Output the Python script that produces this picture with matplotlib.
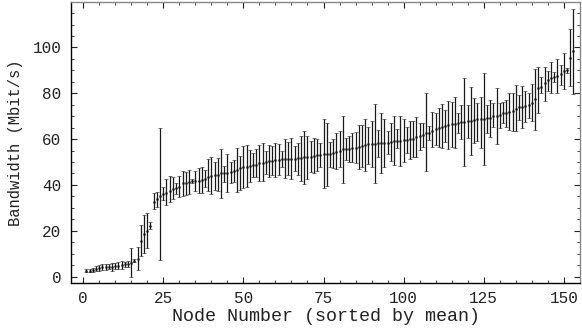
import matplotlib
matplotlib.use("Agg")
import matplotlib.pyplot as plt
import numpy as np
from matplotlib.ticker import MultipleLocator

# Mean bandwidth per node (Mbit/s), sorted by mean
means = [
    2.5, 2.6, 2.8, 3.4, 3.7, 4.0, 4.1, 4.2, 4.3, 4.6,
    4.8, 5.1, 5.3, 5.5, 5.8, 6.9, 7.8, 15.5, 18.5, 20.0,
    22.2, 32.5, 34.0, 35.0, 36.0, 36.6, 37.5, 38.0, 38.5, 39.0,
    40.7, 41.0, 41.3, 41.6, 41.7, 41.8, 42.1, 42.6, 43.6, 44.0,
    44.2, 44.3, 45.0, 45.1, 45.3, 45.6, 46.0, 46.6, 47.2, 47.7,
    48.0, 48.3, 48.6, 48.8, 49.4, 49.7, 50.0, 50.3, 50.6, 50.9,
    50.95, 51.2, 51.3, 51.35, 51.4, 51.45, 51.6, 51.7, 52.0, 52.2,
    52.3, 52.6, 53.0, 53.2, 53.4, 53.45, 53.5, 53.8, 54.4, 54.9,
    55.5, 55.6, 55.8, 56.1, 56.2, 56.4, 57.0, 57.3, 57.7, 57.9,
    57.95, 58.1, 58.2, 58.25, 58.4, 58.9, 59.2, 59.3, 59.35, 59.6,
    59.65, 59.9, 60.2, 60.8, 61.2, 61.8, 62.5, 62.6, 63.7, 64.3,
    64.7, 65.2, 65.7, 66.2, 66.4, 66.7, 67.2, 67.5, 67.6, 67.9,
    68.0, 68.3, 68.6, 68.8, 68.9, 69.1, 69.4, 70.1, 70.2, 70.5,
    71.3, 71.5, 72.0, 72.4, 73.0, 73.9, 74.2, 74.5, 74.9, 75.9,
    77.4, 82.2, 82.6, 84.4, 85.8, 86.8, 87.2, 87.6, 88.4, 89.9,
    90.2, 95.3, 98.6,
]

lows = [
    1.8, 1.9, 2.1, 2.3, 2.5, 2.7, 2.9, 3.2, 2.4, 3.2,
    3.2, 3.4, 4.1, 4.1, 0.0, 6.2, 2.8, 9.0, 10.1, 12.3,
    20.6, 29.3, 30.2, 7.2, 33.4, 31.1, 32.7, 33.7, 36.0, 34.8,
    35.2, 35.6, 36.0, 40.7, 37.5, 36.6, 36.6, 39.0, 37.5, 36.0,
    37.8, 37.5, 34.1, 41.4, 37.0, 41.0, 41.4, 37.0, 37.8, 38.5,
    39.0, 41.4, 43.3, 43.3, 41.8, 41.8, 44.8, 43.6, 44.3, 43.6,
    44.3, 47.7, 42.9, 44.3, 42.4, 46.2, 44.3, 41.8, 40.6, 42.7,
    45.8, 45.1, 46.2, 48.0, 38.5, 39.5, 48.0, 47.2, 46.8, 47.7,
    41.0, 50.9, 50.1, 50.1, 49.7, 46.8, 47.7, 46.2, 49.1, 47.7,
    41.0, 52.1, 45.1, 47.7, 53.5, 50.6, 48.7, 56.0, 48.3, 50.1,
    53.8, 51.2, 52.0, 52.3, 55.2, 56.4, 46.2, 59.6, 56.4, 57.4,
    56.7, 56.0, 58.9, 55.7, 56.4, 56.0, 62.5, 59.9, 48.3, 60.3,
    53.0, 58.2, 59.3, 56.0, 48.7, 62.8, 61.0, 65.2, 57.9, 64.7,
    67.2, 65.4, 64.0, 63.7, 63.7, 68.5, 64.7, 67.6, 69.1, 68.0,
    64.0, 71.5, 80.3, 76.8, 81.1, 80.0, 85.1, 80.0, 83.6, 81.7,
    89.0, 83.2, 79.7,
]

highs = [
    3.3, 3.3, 3.6, 4.6, 5.0, 5.3, 5.3, 5.3, 6.0, 6.0,
    6.5, 6.8, 6.4, 6.8, 12.3, 7.6, 13.0, 22.5, 26.9, 27.9,
    23.9, 36.3, 37.0, 65.0, 39.0, 42.4, 43.9, 43.3, 41.0, 43.9,
    46.2, 45.8, 46.5, 42.4, 46.2, 47.2, 47.7, 46.5, 51.2, 52.0,
    50.1, 51.6, 55.5, 48.3, 53.5, 50.1, 50.9, 56.0, 52.6, 57.0,
    57.4, 55.2, 53.8, 55.5, 57.4, 58.2, 54.9, 57.3, 57.0, 58.4,
    57.9, 54.9, 59.9, 58.9, 60.3, 57.1, 58.2, 61.4, 63.7, 61.4,
    59.3, 60.3, 59.9, 58.2, 68.6, 67.2, 58.9, 59.9, 62.8, 63.5,
    70.1, 60.3, 61.4, 62.8, 63.2, 66.2, 66.2, 68.6, 65.2, 68.0,
    75.1, 64.0, 71.3, 68.6, 63.7, 66.9, 70.1, 64.3, 70.1, 68.6,
    65.2, 68.0, 68.0, 69.5, 66.9, 66.9, 80.0, 65.7, 72.0, 71.5,
    73.4, 75.2, 72.9, 76.5, 76.3, 78.2, 71.5, 74.9, 86.5, 74.9,
    82.6, 77.8, 75.9, 78.2, 89.0, 74.9, 77.0, 75.6, 82.2, 75.6,
    76.3, 77.0, 80.0, 80.3, 83.8, 79.3, 83.2, 81.1, 80.3, 84.0,
    90.5, 91.3, 87.0, 91.6, 89.9, 93.8, 89.4, 94.8, 92.4, 97.7,
    91.2, 107.9, 117.0,
]

xticks = [0, 25, 50, 75, 100, 125, 150]
yticks = [0, 20, 40, 60, 80, 100]

nodes = np.arange(1, len(means) + 1)
m = np.array(means)
lo = np.array(lows)
hi = np.array(highs)
yerr = np.vstack([m - lo, hi - m])

plt.rcParams['font.family'] = ['Liberation Mono', 'DejaVu Sans Mono']

fig = plt.figure(figsize=(5.82, 3.29), dpi=100)
ax = fig.add_axes([0.122, 0.140, 0.8754, 0.855])

ax.errorbar(nodes, m, yerr=yerr, fmt='s', color='#111111', ecolor='#1a1a1a',
            markersize=1.1, markeredgewidth=0.4, elinewidth=0.9,
            capsize=1.6, capthick=0.9)

ax.set_xlim(-3.8, 155.2)
ax.set_ylim(-2.8, 120)
ax.set_xticks(xticks)
ax.set_yticks(yticks)
ax.xaxis.set_minor_locator(MultipleLocator(5))
ax.yaxis.set_minor_locator(MultipleLocator(5))
ax.tick_params(which='both', direction='in', top=True, right=True,
               labelsize=11.5, colors='#222222')
ax.tick_params(which='major', length=4, width=0.8)
ax.tick_params(which='minor', length=2, width=0.6)
ax.tick_params(axis='x', pad=6)
ax.tick_params(axis='y', pad=7)

for side in ['left', 'bottom']:
    ax.spines[side].set_color('black')
    ax.spines[side].set_linewidth(1.0)
for side in ['top', 'right']:
    ax.spines[side].set_color('#888888')
    ax.spines[side].set_linewidth(1.0)

ax.set_xlabel('Node Number (sorted by mean)', fontsize=13.2, color='#222222', labelpad=1)
ax.set_ylabel('Bandwidth (Mbit/s)', fontsize=11.2, color='#222222', labelpad=7)

fig.savefig('out.png', dpi=100)
